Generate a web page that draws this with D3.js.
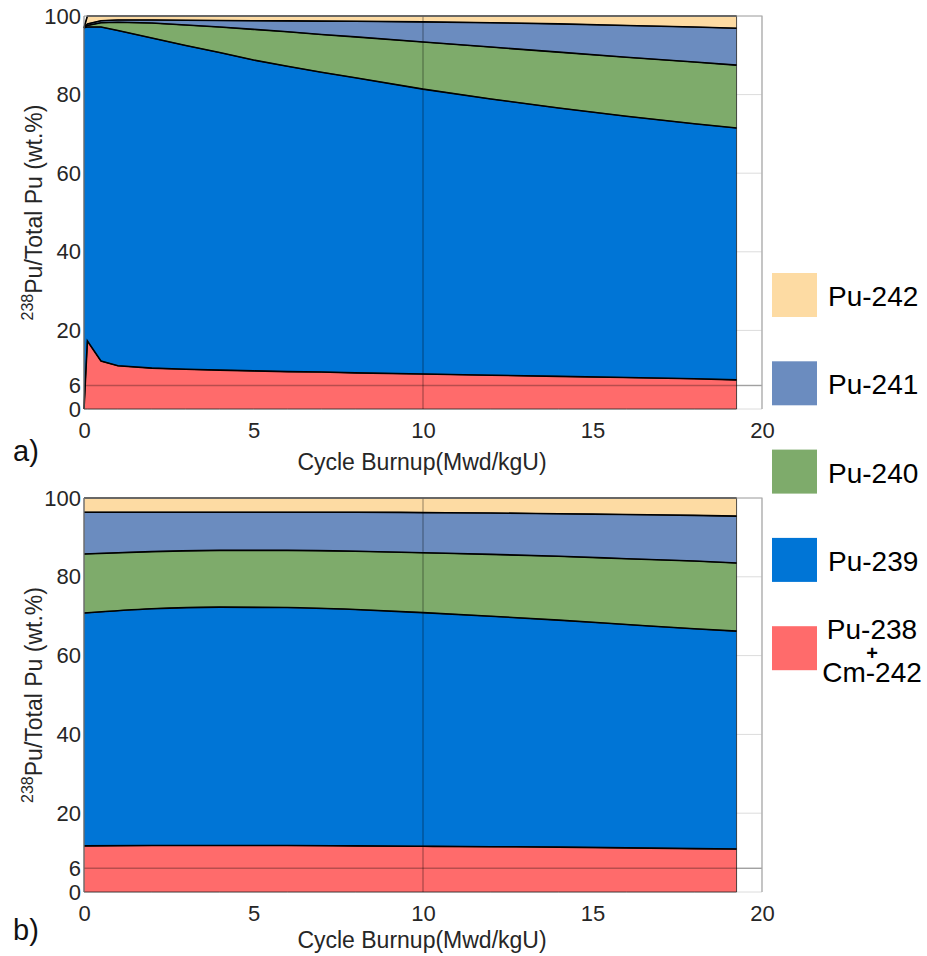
<!DOCTYPE html>
<html>
<head>
<meta charset="utf-8">
<script src="https://d3js.org/d3.v7.min.js"></script>
<style>
  body { margin: 0; background: #fff; }
  text { font-family: "Liberation Sans", Arial, sans-serif; }
</style>
</head>
<body>
<div id="chart"></div>
<script>
// panel a) : isotope shares of total Pu (wt.%) along the cycle
var burnupA = [0, 0.1, 0.5, 1, 2, 3, 4, 5, 6, 7, 8, 10, 12, 14, 16, 18, 19.25];
var pu238A = [0, 17.3, 12.2, 11.0, 10.4, 10.1, 9.9, 9.7, 9.5, 9.4, 9.2, 8.9, 8.6, 8.3, 8.0, 7.7, 7.4];
var pu239A = [97.0, 79.9, 85.0, 85.3, 84.0, 82.4, 80.8, 79.1, 77.7, 76.3, 75.1, 72.5, 70.3, 68.3, 66.5, 64.9, 64.1];
var pu240A = [0, 0.4, 1.1, 2.1, 3.8, 5.2, 6.5, 7.8, 8.8, 9.6, 10.4, 12.0, 13.2, 14.2, 15.0, 15.7, 16.0];
var pu241A = [0, 0.4, 0.5, 0.6, 0.8, 1.2, 1.65, 2.2, 2.75, 3.4, 3.95, 5.1, 6.2, 7.2, 8.1, 8.9, 9.4];
var pu242A = [0, 2.0, 1.2, 1.0, 1.0, 1.1, 1.15, 1.2, 1.25, 1.3, 1.35, 1.5, 1.7, 2.0, 2.4, 2.8, 3.1];

// panel b)
var burnupB = [0, 2, 4, 6, 8, 10, 12, 14, 16, 18, 19.25];
var pu238B = [11.7, 11.8, 11.8, 11.8, 11.7, 11.6, 11.5, 11.4, 11.2, 11.0, 10.9];
var pu239B = [59.1, 60.1, 60.5, 60.4, 60.0, 59.3, 58.5, 57.6, 56.7, 55.8, 55.3];
var pu240B = [15.0, 14.5, 14.4, 14.5, 14.8, 15.2, 15.7, 16.2, 16.7, 17.2, 17.3];
var pu241B = [10.6, 10.0, 9.7, 9.7, 9.9, 10.2, 10.5, 10.8, 11.2, 11.6, 11.9];
var pu242B = [3.6, 3.6, 3.6, 3.6, 3.6, 3.7, 3.8, 4.0, 4.2, 4.4, 4.6];

var keys = ["pu238", "pu239", "pu240", "pu241", "pu242"];
var colors = ["#ff6b6b", "#0075d6", "#7eab6b", "#6b8cbf", "#fddba3"];
var legendNames = ["Pu-242", "Pu-241", "Pu-240", "Pu-239", "Pu-238"];
var xTicks = [0, 5, 10, 15, 20];
var yTicks = [0, 6, 20, 40, 60, 80, 100];

var W = 927, H = 956;
var svg = d3.select("#chart").append("svg")
    .attr("width", W).attr("height", H);

var x = d3.scaleLinear().domain([0, 20]).range([84, 762]);

function table(burnup, cols) {
    return burnup.map(function (b, i) {
        var row = { b: b };
        keys.forEach(function (k, j) { row[k] = cols[j][i]; });
        return row;
    });
}

function panel(data, top, bottom, curve, tag, titleOff, tagOff) {
    var y = d3.scaleLinear().domain([0, 100]).range([bottom, top]);
    var g = svg.append("g");

    // light grid behind the areas
    g.selectAll(".hg").data(yTicks).enter().append("line")
        .attr("x1", x(0)).attr("x2", x(20))
        .attr("y1", function (d) { return y(d); }).attr("y2", function (d) { return y(d); })
        .attr("stroke", "#dcdcdc").attr("stroke-width", 1);
    g.selectAll(".vg").data(xTicks).enter().append("line")
        .attr("y1", y(0)).attr("y2", y(100))
        .attr("x1", function (d) { return x(d); }).attr("x2", function (d) { return x(d); })
        .attr("stroke", "#dcdcdc").attr("stroke-width", 1);

    var stack = d3.stack().keys(keys)(data);
    var area = d3.area()
        .x(function (d) { return x(d.data.b); })
        .y0(function (d) { return y(d[0]); })
        .y1(function (d) { return y(d[1]); })
        .curve(curve);
    var line = d3.line()
        .x(function (d) { return x(d.data.b); })
        .y(function (d) { return y(d[1]); })
        .curve(curve);

    g.selectAll(".layer").data(stack).enter().append("path")
        .attr("d", area)
        .attr("fill", function (d, i) { return colors[i]; })
        .attr("stroke", "#222").attr("stroke-width", 0.8);
    g.selectAll(".edge").data(stack).enter().append("path")
        .attr("d", line)
        .attr("fill", "none")
        .attr("stroke", "#000").attr("stroke-width", 1.6);

    // reference lines at 6 wt.% and 10 Mwd/kgU, drawn on top
    g.append("line")
        .attr("x1", x(0)).attr("x2", x(20)).attr("y1", y(6)).attr("y2", y(6))
        .attr("stroke", "#000").attr("stroke-opacity", 0.28).attr("stroke-width", 1.5);
    g.append("line")
        .attr("x1", x(10)).attr("x2", x(10)).attr("y1", y(0)).attr("y2", y(100))
        .attr("stroke", "#000").attr("stroke-opacity", 0.28).attr("stroke-width", 1.5);

    // box
    g.append("path")
        .attr("d", "M" + x(0) + "," + y(100) + "H" + x(20) + "V" + y(0))
        .attr("fill", "none").attr("stroke", "#aaa").attr("stroke-width", 1.2);
    g.append("line")
        .attr("x1", x(0)).attr("x2", x(0)).attr("y1", y(0)).attr("y2", y(100))
        .attr("stroke", "#888").attr("stroke-width", 1);

    var xAxis = g.append("g")
        .attr("transform", "translate(0," + y(0) + ")")
        .call(d3.axisBottom(x).tickValues(xTicks).tickSize(0).tickPadding(13));
    var yAxis = g.append("g")
        .attr("transform", "translate(" + x(0) + ",0)")
        .call(d3.axisLeft(y).tickValues(yTicks).tickSize(0).tickPadding(3));
    [xAxis, yAxis].forEach(function (a) {
        a.select(".domain").remove();
        a.selectAll("text")
            .attr("font-family", "Liberation Sans, Arial, sans-serif")
            .attr("font-size", 22).attr("fill", "#262626");
    });

    g.append("text")
        .attr("x", 422).attr("y", bottom + titleOff)
        .attr("text-anchor", "middle")
        .attr("font-size", 23).attr("fill", "#262626")
        .text("Cycle Burnup(Mwd/kgU)");

    var yt = g.append("text")
        .attr("transform", "translate(42," + (top + bottom) / 2 + ") rotate(-90)")
        .attr("text-anchor", "middle")
        .attr("font-size", 23).attr("fill", "#262626");
    yt.append("tspan").attr("font-size", 16).attr("dy", -9).text("238");
    yt.append("tspan").attr("dy", 9).text("Pu/Total Pu (wt.%)");

    svg.append("text")
        .attr("x", 13).attr("y", bottom + tagOff)
        .attr("font-size", 29).attr("fill", "#111")
        .text(tag);
}

panel(table(burnupA, [pu238A, pu239A, pu240A, pu241A, pu242A]), 16, 409, d3.curveLinear, "a)", 61, 52);
panel(table(burnupB, [pu238B, pu239B, pu240B, pu241B, pu242B]), 498, 892, d3.curveMonotoneX, "b)", 56, 48);

// legend, top entry = top layer
var leg = svg.append("g");
legendNames.forEach(function (name, i) {
    var cy = 295 + i * 88.3;
    leg.append("rect")
        .attr("x", 772).attr("y", cy - 22).attr("width", 45).attr("height", 44)
        .attr("fill", colors[colors.length - 1 - i]);
    if (i < 4) {
        leg.append("text")
            .attr("x", 828).attr("y", cy + 11)
            .attr("font-size", 28).attr("fill", "#000")
            .text(name);
    } else {
        leg.append("text").attr("x", 872).attr("y", cy - 9)
            .attr("text-anchor", "middle").attr("font-size", 28).text(name);
        leg.append("text").attr("x", 872).attr("y", cy + 12)
            .attr("text-anchor", "middle").attr("font-size", 20).attr("font-weight", "bold").text("+");
        leg.append("text").attr("x", 872).attr("y", cy + 34)
            .attr("text-anchor", "middle").attr("font-size", 28).text("Cm-242");
    }
});
</script>
</body>
</html>
